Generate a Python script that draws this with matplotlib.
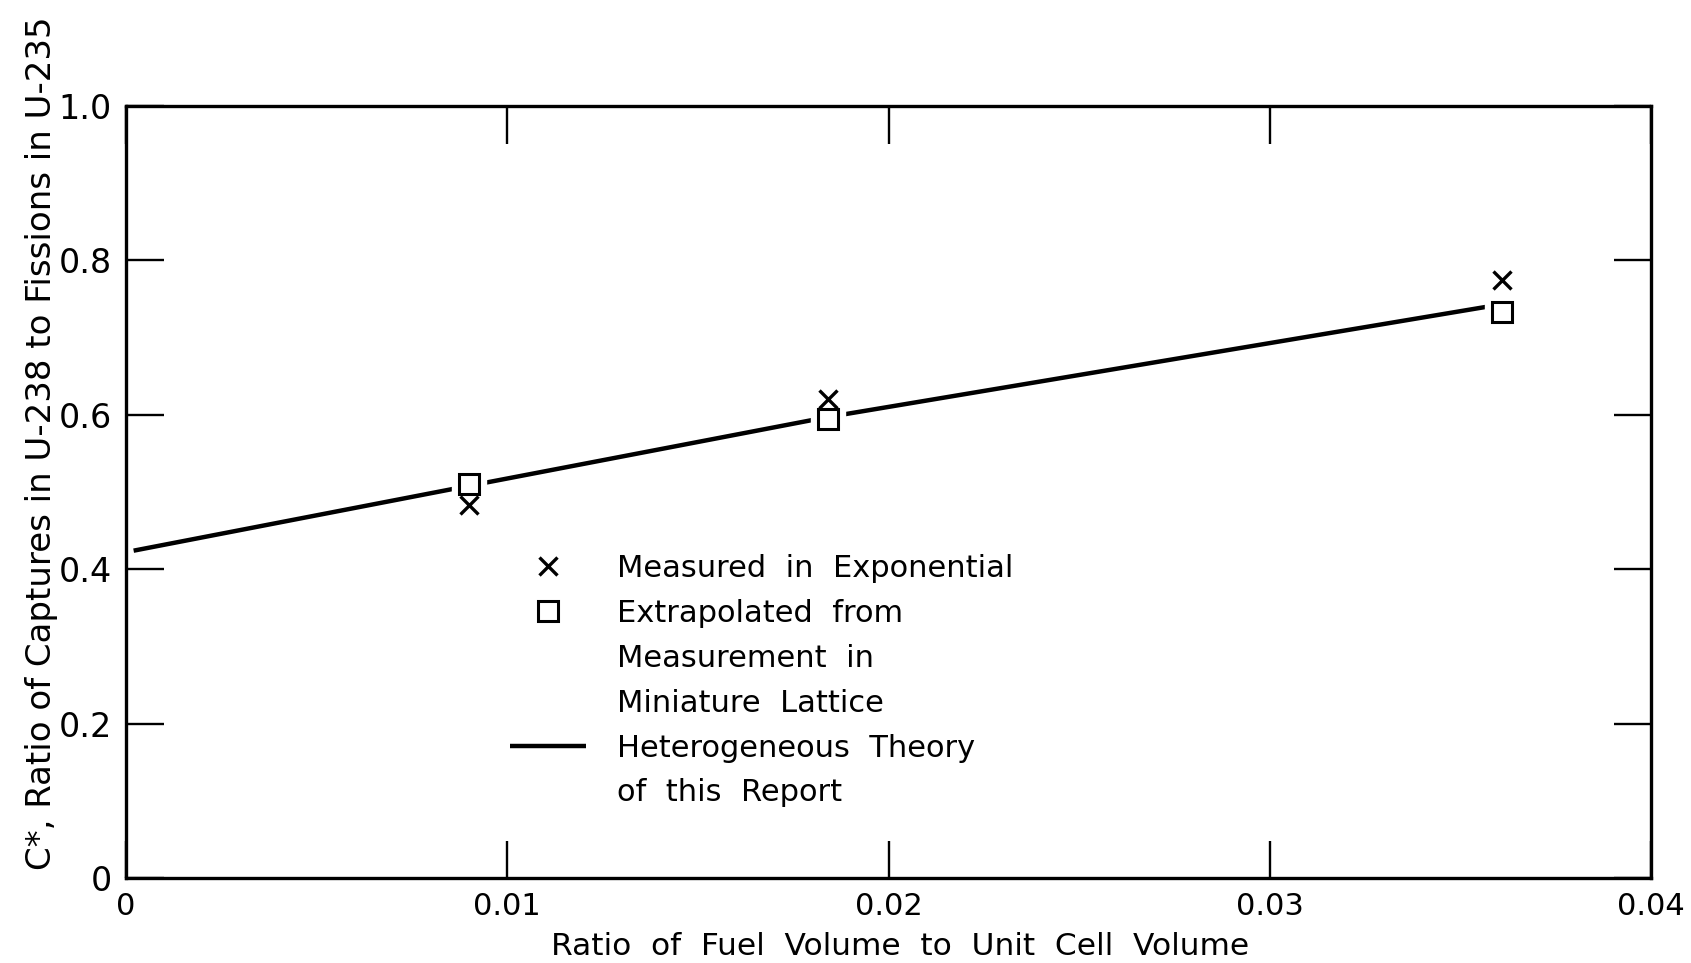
import matplotlib
matplotlib.use("Agg")
import matplotlib.pyplot as plt
from matplotlib.lines import Line2D

# Fuel-to-cell volume ratios and measured / extrapolated C* values
fuel_ratio_measured = [0.0090, 0.0184, 0.0361]
cstar_measured = [0.483, 0.620, 0.775]

fuel_ratio_extrap = [0.0090, 0.0184, 0.0361]
cstar_extrap = [0.511, 0.594, 0.733]

# Heterogeneous theory curve
fuel_ratio_theory = [0.0002, 0.0090, 0.0184, 0.0357]
cstar_theory = [0.424, 0.508, 0.597, 0.740]

x_ticks = [0.0, 0.01, 0.02, 0.03, 0.04]
x_tick_labels = ["0", "0.01", "0.02", "0.03", "0.04"]
y_ticks = [0.0, 0.2, 0.4, 0.6, 0.8, 1.0]
y_tick_labels = ["0", "0.2", "0.4", "0.6", "0.8", "1.0"]

plt.rcParams["font.family"] = ["DejaVu Sans"]

W, H = 1691, 963
fig = plt.figure(figsize=(W / 100, H / 100), dpi=100)
fig.patch.set_facecolor("white")

ax_l, ax_r, ax_t, ax_b = 126, 1651, 106, 878
ax = fig.add_axes([ax_l / W, 1 - ax_b / H, (ax_r - ax_l) / W, (ax_b - ax_t) / H])

ax.set_xlim(0, 0.04)
ax.set_ylim(0, 1.0)

# theory line
ax.plot(fuel_ratio_theory, cstar_theory, color="black", lw=3.2,
        solid_capstyle="butt", zorder=2)
# white gap around the square symbols
ax.plot(fuel_ratio_extrap, cstar_extrap, linestyle="none", marker="s",
        markersize=24, markerfacecolor="white", markeredgecolor="white",
        zorder=3)
ax.plot(fuel_ratio_extrap, cstar_extrap, linestyle="none", marker="s",
        markersize=15, markerfacecolor="white", markeredgecolor="black",
        markeredgewidth=2.2, zorder=4)
ax.plot(fuel_ratio_measured, cstar_measured, linestyle="none", marker="x",
        markersize=13, markeredgecolor="black", markeredgewidth=2.4, zorder=5)

ax.set_xticks(x_ticks)
ax.set_xticklabels(x_tick_labels)
ax.set_yticks(y_ticks)
ax.set_yticklabels(y_tick_labels)
ax.tick_params(axis="both", direction="in", top=True, right=True,
               length=27, width=1.7, colors="black")
ax.tick_params(axis="x", labelsize=22, pad=10)
ax.tick_params(axis="y", labelsize=24, pad=10)

for sp in ax.spines.values():
    sp.set_linewidth(2.4)
    sp.set_color("black")

fig.text(42 / W, 1 - 443 / H,
         "C*, Ratio of Captures in U-238 to Fissions in U-235",
         rotation=90, ha="center", va="center", fontsize=24.5)
fig.text(900 / W, 1 - 946 / H,
         "Ratio  of  Fuel  Volume  to  Unit  Cell  Volume",
         ha="center", va="center", fontsize=22.5)

# legend with continuation rows for the wrapped labels
blank = Line2D([], [], linestyle="none")
handles = [
    Line2D([], [], linestyle="none", marker="x", markersize=13,
           markeredgecolor="black", markeredgewidth=2.4),
    Line2D([], [], linestyle="none", marker="s", markersize=15,
           markerfacecolor="white", markeredgecolor="black",
           markeredgewidth=2.2),
    blank,
    blank,
    Line2D([], [], color="black", lw=3.2, solid_capstyle="butt"),
    blank,
]
labels = [
    "Measured  in  Exponential",
    "Extrapolated  from",
    "Measurement  in",
    "Miniature  Lattice",
    "Heterogeneous  Theory",
    "of  this  Report",
]
leg = ax.legend(handles, labels, loc="upper left",
                bbox_to_anchor=(510 / W, 1 - 554 / H),
                bbox_transform=fig.transFigure, frameon=False,
                fontsize=22, handlelength=2.5, handletextpad=1.0,
                labelspacing=0.52, borderpad=0, borderaxespad=0,
                numpoints=1)

fig.savefig("out.png", dpi=100, facecolor="white")
